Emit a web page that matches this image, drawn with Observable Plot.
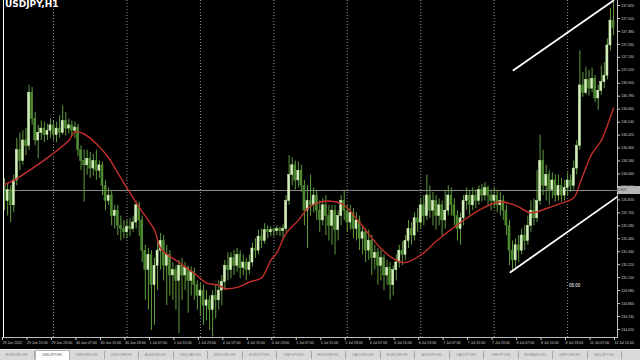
<!DOCTYPE html>
<html><head><meta charset="utf-8">
<script src="https://cdn.jsdelivr.net/npm/d3@7"></script>
<script src="https://cdn.jsdelivr.net/npm/@observablehq/plot@0.6"></script>
<style>
html,body{margin:0;padding:0;background:#000;width:640px;height:360px;overflow:hidden;}
#wrap{position:relative;width:640px;height:360px;}
#title{position:absolute;left:5px;top:0px;color:#fff;font:bold 9px/9px "DejaVu Sans",sans-serif;z-index:2;}
#tabs{position:absolute;left:0;top:349px;width:640px;height:11px;background:#d9d9d9;border-top:1px solid #f0f0f0;display:flex;font:3.8px "Liberation Sans",Arial,sans-serif;color:#8a8a8a;}
#tabs span{display:block;width:33.5px;height:8px;margin-top:1px;border-right:1px solid #a8a8a8;text-align:center;line-height:8px;white-space:nowrap;overflow:hidden;}
#tabs span.act{background:#fff;color:#555;border:1px solid #b0b0b0;margin-top:0;height:9px;}
</style></head>
<body><div id="wrap"><div id="title">USDJPY,H1</div><div id="chart"></div><div id="tabs"></div></div>
<script>
// ---- data (USDJPY H1, bar index 0 = 29 Jun 07:00) ----
const open = [
135.86,135.95,135.81,135.91,135.77, 136.00,136.28,136.18,136.37,136.32,
136.81,136.57,136.37,136.44,136.48, 136.42,136.46,136.51,136.42,136.48,
136.44,136.55,136.48,136.51,136.46, 136.49,136.28,136.18,136.14,136.20,
136.11,136.18,136.09,136.14,135.95, 135.81,135.86,135.67,135.72,135.58,
135.55,135.52,135.57,135.55,135.61, 135.77,135.63,135.35,135.17,135.31,
135.03,135.21,135.35,135.44,135.21, 135.31,135.12,135.17,135.07,135.21,
135.12,135.19,135.07,135.15,135.03, 134.93,134.98,134.84,134.89,134.80,
134.93,134.89,134.98,135.06,135.21, 135.17,135.28,135.21,135.31,135.19,
135.24,135.17,135.24,135.37,135.35, 135.48,135.44,135.54,135.52,135.54,
135.53,135.55,135.53,135.55,135.81, 136.05,136.14,136.00,136.09,135.95,
135.72,135.81,135.77,135.86,135.72, 135.63,135.77,135.67,135.58,135.72,
135.54,135.67,135.81,135.72,135.61, 135.70,135.55,135.63,135.46,135.52,
135.35,135.44,135.28,135.33,135.21, 135.28,135.12,135.19,135.03,135.17,
135.24,135.35,135.31,135.44,135.55, 135.49,135.65,135.61,135.77,135.67,
135.86,135.72,135.81,135.67,135.77, 135.63,135.72,135.86,135.77,135.67,
135.55,135.65,135.81,135.86,135.77, 135.86,135.81,135.91,135.86,135.93,
135.86,135.81,135.86,135.77,135.81, 135.72,135.58,135.35,135.26,135.40,
135.35,135.49,135.44,135.58,135.72, 135.65,135.81,136.18,135.95,136.05,
135.91,136.00,135.86,135.95,135.86, 135.93,136.00,135.95,136.11,136.32,
136.88,136.81,136.93,136.85,136.94, 136.76,136.83,136.91,136.97,137.25,
137.48];
const high = [
136.02,136.02,135.97,135.95,136.05, 136.39,136.44,136.46,136.48,136.88,
136.86,136.63,136.51,136.55,136.54, 136.52,136.57,136.55,136.54,136.60,
136.69,136.63,136.57,136.55,136.54, 136.52,136.32,136.28,136.28,136.26,
136.24,136.28,136.18,136.17,136.00, 135.93,135.91,135.77,135.77,135.67,
135.63,135.63,135.65,135.67,135.81, 135.80,135.67,135.40,135.37,135.35,
135.28,135.44,135.51,135.49,135.40, 135.35,135.24,135.21,135.26,135.28,
135.24,135.21,135.20,135.19,135.07, 135.05,135.03,134.98,134.93,134.98,
135.03,135.07,135.12,135.26,135.33, 135.33,135.35,135.37,135.35,135.31,
135.28,135.31,135.42,135.46,135.54, 135.55,135.60,135.58,135.57,135.56,
135.58,135.57,135.59,135.86,136.23, 136.21,136.18,136.17,136.14,136.00,
135.95,136.05,135.93,135.91,135.81, 135.83,135.86,135.77,135.77,135.77,
135.72,135.86,135.91,135.77,135.77, 135.74,135.70,135.67,135.58,135.55,
135.54,135.49,135.40,135.37,135.35, 135.31,135.26,135.24,135.21,135.31,
135.40,135.43,135.49,135.63,135.61, 135.70,135.74,135.83,135.86,136.05,
135.95,135.89,135.86,135.83,135.81, 135.91,135.95,135.93,135.83,135.72,
135.70,135.86,135.93,135.91,135.93, 135.91,135.95,135.96,135.98,135.95,
135.91,135.93,135.91,135.89,135.86, 135.77,135.63,135.44,135.46,135.49,
135.55,135.58,135.67,135.81,135.83, 136.09,136.42,136.28,136.14,136.09,
136.07,136.05,136.05,136.02,136.00, 136.07,136.05,136.18,136.37,137.20,
137.00,137.05,137.02,137.04,136.97, 136.88,137.06,137.09,137.31,137.59,
137.65];
const low = [
135.77,135.72,135.67,135.61,135.70, 135.95,136.09,136.14,136.23,136.28,
136.51,136.32,136.20,136.37,136.35, 136.37,136.39,136.37,136.35,136.39,
136.42,136.41,136.43,136.41,136.39, 136.22,136.09,135.80,136.05,136.02,
136.04,136.00,136.02,135.86,135.72, 135.77,135.58,135.55,135.49,135.44,
135.46,135.46,135.48,135.52,135.55, 135.48,135.24,134.89,134.80,134.61,
134.66,134.98,135.17,135.07,134.84, 134.93,134.89,134.80,134.58,134.89,
134.98,134.77,134.93,134.89,134.80, 134.75,134.66,134.70,134.61,134.55,
134.72,134.80,134.84,134.98,135.07, 135.09,135.12,135.15,135.09,135.12,
135.07,135.13,135.20,135.28,135.31, 135.37,135.41,135.46,135.48,135.48,
135.49,135.48,135.46,135.52,135.77, 135.95,135.91,135.93,135.89,135.58,
135.37,135.67,135.70,135.63,135.52, 135.58,135.49,135.44,135.40,135.31,
135.44,135.58,135.63,135.52,135.54, 135.46,135.44,135.35,135.31,135.24,
135.26,135.12,135.17,135.03,135.07, 134.98,135.03,134.89,134.93,135.07,
135.19,135.21,135.26,135.37,135.40, 135.44,135.52,135.55,135.58,135.63,
135.65,135.58,135.54,135.58,135.49, 135.55,135.67,135.67,135.58,135.44,
135.40,135.58,135.72,135.67,135.72, 135.74,135.77,135.80,135.81,135.77,
135.72,135.74,135.70,135.67,135.63, 135.49,135.21,135.15,135.19,135.24,
135.31,135.35,135.40,135.52,135.58, 135.61,135.77,135.86,135.81,135.77,
135.83,135.80,135.81,135.80,135.81, 135.86,135.89,135.91,136.05,136.28,
136.77,136.79,136.78,136.81,136.72, 136.65,136.79,136.85,136.93,137.20,
137.34];
const close = [
135.95,135.81,135.91,135.77,136.00, 136.28,136.18,136.37,136.32,136.81,
136.57,136.37,136.44,136.48,136.42, 136.46,136.51,136.42,136.48,136.44,
136.55,136.48,136.51,136.46,136.49, 136.28,136.18,136.14,136.20,136.11,
136.18,136.09,136.14,135.95,135.81, 135.86,135.67,135.72,135.58,135.55,
135.52,135.57,135.55,135.61,135.77, 135.63,135.35,135.17,135.31,135.03,
135.21,135.35,135.44,135.21,135.31, 135.12,135.17,135.07,135.21,135.12,
135.19,135.07,135.15,135.03,134.93, 134.98,134.84,134.89,134.80,134.93,
134.89,134.98,135.06,135.21,135.17, 135.28,135.21,135.31,135.19,135.24,
135.17,135.24,135.37,135.35,135.48, 135.44,135.54,135.52,135.54,135.53,
135.55,135.53,135.55,135.81,136.05, 136.14,136.00,136.09,135.95,135.72,
135.81,135.77,135.86,135.72,135.63, 135.77,135.67,135.58,135.72,135.54,
135.67,135.81,135.72,135.61,135.70, 135.55,135.63,135.46,135.52,135.35,
135.44,135.28,135.33,135.21,135.28, 135.12,135.19,135.03,135.17,135.24,
135.35,135.31,135.44,135.55,135.49, 135.65,135.61,135.77,135.67,135.86,
135.72,135.81,135.67,135.77,135.63, 135.72,135.86,135.77,135.67,135.55,
135.65,135.81,135.86,135.77,135.86, 135.81,135.91,135.86,135.93,135.86,
135.81,135.86,135.77,135.81,135.72, 135.58,135.35,135.26,135.40,135.35,
135.49,135.44,135.58,135.72,135.65, 135.81,136.18,135.95,136.05,135.91,
136.00,135.86,135.95,135.86,135.93, 136.00,135.95,136.11,136.32,136.88,
136.81,136.93,136.85,136.94,136.76, 136.83,136.91,136.97,137.25,137.48,
137.41];

// moving average
const maBar = [0,4,10,16,22,24,27,31,35,38,41,45,50,52,58,63,67,71,73,77,81,85,88,90,93,97,100,103,107,112,117,124,129,132,137,143,150,157,163,168,173,178,183,187,189,191,193,196,198,200];
const maVal = [135.95,136.00,136.11,136.23,136.37,136.45,136.43,136.34,136.21,136.07,135.93,135.75,135.54,135.37,135.24,135.14,135.05,135.03,135.00,135.01,135.06,135.10,135.26,135.33,135.51,135.63,135.74,135.79,135.81,135.77,135.61,135.37,135.26,135.24,135.31,135.46,135.61,135.74,135.80,135.77,135.70,135.74,135.79,135.84,135.97,136.12,136.25,136.37,136.51,136.67];

// channel lines
const chanUpBar = [167.3, 200.0], chanUpVal = [137.02, 137.666];
const chanLoBar = [166.3, 201.3], chanLoVal = [135.15, 135.85];

// day separators (midnight bars)
const sepBars = [17,41,65,89,113,137,161,185];
// horizontal line
const hLine = 135.907;
// countdown text
const countText = "06:00", countBar = 187.3, countVal = 135.03;

// axis labels
const yTicks = [137.62,137.50,137.38,137.26,137.14,137.02,136.90,136.78,136.66,136.54,136.42,136.30,136.18,136.06,135.94,135.82,135.70,135.58,135.46,135.34,135.22,135.10,134.98,134.86,134.74,134.62];
const xTickBars = [0,8,16,24,32,40,48,56,64,72,80,88,96,104,112,120,128,136,144,152,160,168,176,184,192,200];
const xTickLabels = ["29 Jun 2022","29 Jun 15:00","29 Jun 23:00","30 Jun 07:00","30 Jun 15:00","30 Jun 23:00","1 Jul 07:00","1 Jul 15:00","1 Jul 23:00","4 Jul 07:00","4 Jul 15:00","4 Jul 23:00","5 Jul 07:00","5 Jul 15:00","5 Jul 23:00","6 Jul 07:00","6 Jul 15:00","6 Jul 23:00","7 Jul 07:00","7 Jul 15:00","7 Jul 23:00","8 Jul 07:00","8 Jul 15:00","8 Jul 23:00","11 Jul 07:00","11 Jul 15:00"];
const tabNames = ["EURUSD,H1","USDJPY,H1","GBPUSD,H1","USDCHF,H1","AUDUSD,H1","USDCAD,H1","NZDUSD,H1","EURJPY,H1","GBPJPY,H1","EURGBP,H1","XAUUSD,H1","EURCHF,H1","AUDJPY,H1","CADJPY,H1","CHFJPY,H1","EURAUD,H1","GBPCHF,H1","NZDJPY,H1"];
const activeTab = "USDJPY,H1";

// ---- build ----
const bars = open.map((o, i) => ({i, o, h: high[i], l: low[i], c: close[i], up: close[i] >= o}));
const ma = maBar.map((b, k) => ({b, v: maVal[k]}));
const chUp = chanUpBar.map((b, k) => ({b, v: chanUpVal[k]}));
const chLo = chanLoBar.map((b, k) => ({b, v: chanLoVal[k]}));
const xLab = new Map(xTickBars.map((b, k) => [b, xTickLabels[k]]));

const wick = "#5e9c3e", bull = "#d2f0b8", bear = "#4e8a30";
const axisCol = "#cfcfcf";

const plot = Plot.plot({
  width: 640, height: 348,
  marginLeft: 3, marginRight: 23, marginTop: 0, marginBottom: 11,
  style: {background: "#000", color: axisCol, fontFamily: "Liberation Sans, Arial, sans-serif", overflow: "visible"},
  x: {domain: [0.654, 201.3], axis: null},
  y: {domain: [134.546, 137.666], axis: null},
  marks: [
    Plot.ruleX(sepBars, {stroke: "#b8b8b8", strokeDasharray: "1,2", strokeWidth: 0.8}),
    Plot.ruleY([hLine], {stroke: "#8c8c8c", strokeWidth: 1}),
    Plot.ruleX(bars, {x: "i", y1: "l", y2: "h", stroke: wick, strokeWidth: 1, clip: true}),
    Plot.rect(bars, {x1: d => d.i - 0.34, x2: d => d.i + 0.34, y1: "o", y2: "c",
      fill: d => d.up ? bull : bear, stroke: d => d.up ? bull : bear, strokeWidth: 0.5, clip: true}),
    Plot.line(ma, {x: "b", y: "v", stroke: "#c3302b", strokeWidth: 1.4, curve: "catmull-rom", clip: true}),
    Plot.line(chUp, {x: "b", y: "v", stroke: "#fff", strokeWidth: 1.8, clip: true}),
    Plot.line(chLo, {x: "b", y: "v", stroke: "#fff", strokeWidth: 1.8, clip: true}),
    Plot.text([countText], {x: countBar, y: countVal, text: d => d, fill: "#fff", fontSize: 4.5}),
    Plot.frame({anchor: "left", stroke: "#fff"}),
    Plot.frame({anchor: "right", stroke: "#bdbdbd"}),
    Plot.frame({anchor: "bottom", stroke: "#bdbdbd"}),
    Plot.axisY({anchor: "right", ticks: yTicks, tickFormat: d => d.toFixed(3), tickSize: 2, tickPadding: 1.5, fontSize: 3.6, color: axisCol}),
    Plot.axisX({ticks: xTickBars, tickFormat: d => xLab.get(d), tickSize: 3, tickPadding: 1, textAnchor: "start", dx: 1, fontSize: 3.6, color: axisCol})
  ]
});
document.getElementById("chart").appendChild(plot);

// price label box on the horizontal line, placed with the plot's own scales
const ys = plot.scale("y"), xs = plot.scale("x");
const yy = ys.apply(hLine), xr = xs.apply(201.3);
const ns = "http://www.w3.org/2000/svg";
const g = document.createElementNS(ns, "g");
const r = document.createElementNS(ns, "rect");
r.setAttribute("x", xr + 1); r.setAttribute("y", yy - 4); r.setAttribute("width", 22); r.setAttribute("height", 8);
r.setAttribute("fill", "#b4b4b4");
const t = document.createElementNS(ns, "text");
t.setAttribute("x", xr + 3); t.setAttribute("y", yy + 1.3); t.setAttribute("font-size", "3.6");
t.setAttribute("fill", "#303030"); t.setAttribute("font-family", "Liberation Sans, Arial, sans-serif");
t.textContent = hLine.toFixed(3);
g.appendChild(r); g.appendChild(t); plot.appendChild(g);

// tab bar
const tabs = document.getElementById("tabs");
tabNames.forEach(n => { const s = document.createElement("span"); s.textContent = n; if (n === activeTab) s.className = "act"; tabs.appendChild(s); });
</script></body></html>
